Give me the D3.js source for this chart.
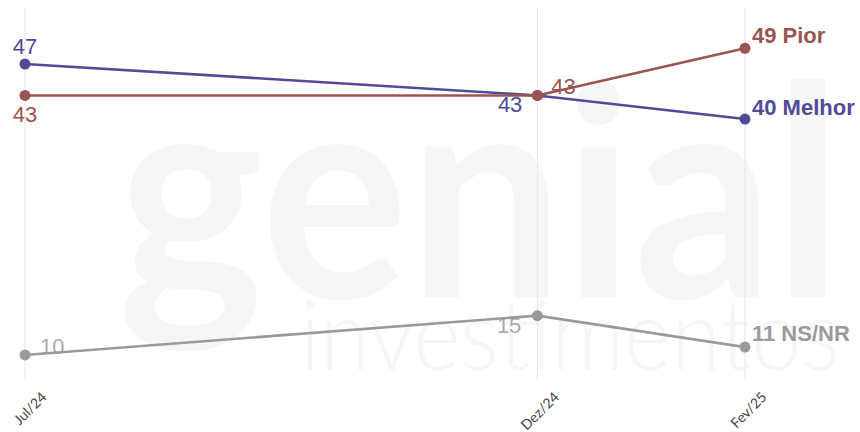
<!DOCTYPE html>
<html>
<head>
<meta charset="utf-8">
<script src="https://cdn.jsdelivr.net/npm/d3@7"></script>
<style>
html,body{margin:0;padding:0;background:#fff;}
svg{display:block;}
</style>
</head>
<body>
<svg id="chart" width="860" height="432"></svg>
<script>
const dates = ["2024-07-01","2024-12-01","2025-02-01"];
const tickLabels = ["Jul/24","Dez/24","Fev/25"];
const seriesNames = ["Melhor","Pior","NS/NR"];
const melhor = [47, 43, 40];
const pior = [43, 43, 49];
const nsnr = [10, 15, 11];
const colors = ["#514b97","#9a5550","#9a9a9a"];

const parse = d3.utcParse("%Y-%m-%d");
const dt = dates.map(parse);
const svg = d3.select("#chart");

const x = d3.scaleUtc().domain([dt[0], dt[2]]).range([25, 745]);
const y = d3.scaleLinear().domain([0, 50]).range([433.6, 40.4]);

// watermark
const wm = svg.append("g").attr("fill","#f6f6f6");
wm.append("text").attr("x",118).attr("y",298)
  .attr("font-family","Lato").attr("font-weight","bold").attr("font-size",295)
  .attr("textLength",724).attr("lengthAdjust","spacingAndGlyphs")
  .text("genial");
wm.append("text").attr("x",300).attr("y",370)
  .attr("font-family","Lato").attr("font-weight",300).attr("font-size",98)
  .attr("textLength",540).attr("lengthAdjust","spacingAndGlyphs")
  .text("investimentos");

// gridlines + axis
const xAxis = d3.axisBottom(x).tickValues(dt).tickSize(0)
  .tickFormat((d,i)=>tickLabels[i]);
const ax = svg.append("g").attr("transform","translate(0,398)").call(xAxis);
ax.select(".domain").remove();
ax.selectAll("text")
  .attr("font-family","Lato").attr("font-size",14).attr("fill","#444")
  .attr("text-anchor","end").attr("dy",0).attr("y",0)
  .attr("transform","translate(22,0) rotate(-45)");

svg.append("g").selectAll("line").data(dt).join("line")
  .attr("x1",d=>x(d)).attr("x2",d=>x(d))
  .attr("y1",8).attr("y2",380)
  .attr("stroke","#e6e6e6").attr("stroke-width",1);

const all = [melhor, pior, nsnr];
const line = d3.line().x((d,i)=>x(dt[i])).y(d=>y(d));

// draw order: gray, melhor, pior
[2,0,1].forEach(s=>{
  const g = svg.append("g");
  g.append("path").datum(all[s]).attr("d",line)
    .attr("fill","none").attr("stroke",colors[s]).attr("stroke-width",2.6);
  g.selectAll("circle").data(all[s]).join("circle")
    .attr("cx",(d,i)=>x(dt[i])).attr("cy",d=>y(d)).attr("r",5.5)
    .attr("fill",colors[s]);
});

// labels: [dx, dy(baseline offset), anchor]
const labelPos = [
  [[0,-10,"middle"],[-15,17,"end"],[7,-4,"start"]],
  [[0,27,"middle"],[14,-1,"start"],[7,-5,"start"]],
  [[15,-1,"start"],[-16,17,"end"],[7,-6,"start"]]
];
all.forEach((vals,s)=>{
  vals.forEach((v,i)=>{
    const p = labelPos[s][i];
    const last = i === vals.length-1;
    svg.append("text")
      .attr("x", x(dt[i]) + p[0]).attr("y", y(v) + p[1])
      .attr("text-anchor", p[2])
      .attr("font-family","Liberation Sans")
      .attr("font-size", 22)
      .attr("font-weight", last ? "bold" : "normal")
      .attr("fill", colors[s])
      .attr("fill-opacity", (s===2 && !last) ? 0.85 : 1)
      .text(last ? v + " " + seriesNames[s] : v);
  });
});
</script>
</body>
</html>
